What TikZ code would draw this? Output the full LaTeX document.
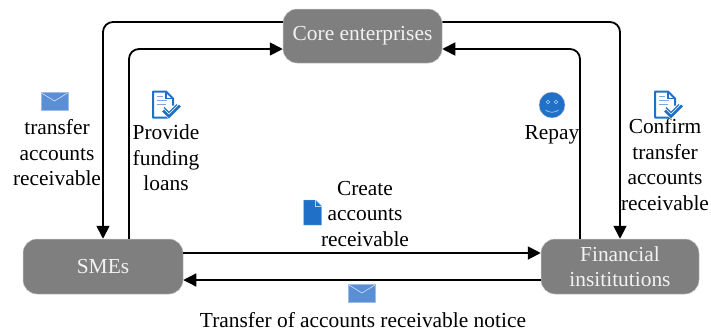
\documentclass[tikz,border=0pt]{standalone}
\usepackage{fontspec}
\setmainfont{Liberation Serif}
\usetikzlibrary{arrows.meta}
\definecolor{boxgray}{HTML}{7F7F7F}
\definecolor{boxedge}{HTML}{C8C8C8}
\definecolor{mailblue}{HTML}{5B8FD5}
\definecolor{iconblue}{HTML}{2070C8}
\tikzset{
  x=1pt,y=-1pt,
  actor/.style={draw=boxedge,line width=0.5pt,fill=boxgray,rounded corners=14pt,text=white!95!black,
    minimum width=160pt,minimum height=55pt,inner sep=0pt,align=center,font=\fontsize{21.4}{25.5}\selectfont},
  lbl/.style={inner sep=0pt,align=center,text=black,font=\fontsize{21.4}{25.5}\selectfont},
  conn/.style={draw=black,line width=1.8pt,rounded corners=10pt,-{Triangle[length=13pt,width=13pt]}},
  pics/mail/.style={code={
    \fill[mailblue,draw=mailblue!60!white,line width=0.5pt] (-13.5,-9) rectangle (13.5,9);
    \draw[white!75!mailblue,line width=0.6pt] (-13,-8) -- (0,0) -- (13,-8);
  }},
  pics/checkdoc/.style={code={
    \draw[iconblue,line width=2pt,fill=white,line join=round] (3,13) -- (-13,13) -- (-13,-13) -- (0,-13) -- (7,-6) -- (7,1);
    \draw[iconblue,line width=1.2pt] (0,-13) -- (0,-6) -- (7,-6);
    \draw[iconblue!60!white,line width=1pt] (-9,-8) -- (-3,-8) (-9,-4) -- (1,-4) (-9,0) -- (0,0);
    \draw[white,line width=5pt] (-2,6) -- (3,11) -- (13,1);
    \draw[iconblue,line width=2.6pt] (-3,6) -- (3,12) -- (14,1);
    \draw[iconblue,line width=1.2pt] (-2,3) -- (3,8) -- (11,0);
  }},
  pics/smile/.style={code={
    \fill[iconblue,draw=boxedge,line width=0.4pt] (0,0) circle[radius=13];
    \draw[white!70!iconblue,line width=0.6pt] (-4,-3) circle[radius=1.7] (4,-3) circle[radius=1.7];
    \draw[white!70!iconblue,line width=0.6pt] (-6.5,5) .. controls (-3,8) and (3,8) .. (6.5,5);
  }},
  pics/filedoc/.style={code={
    \fill[iconblue,draw=iconblue!50!white,line width=0.4pt] (-9,-12.5) -- (3,-12.5) -- (9,-6.5) -- (9,12.5) -- (-9,12.5) -- cycle;
    \draw[white!70!iconblue,line width=0.6pt] (3,-12.5) -- (3,-6.5) -- (9,-6.5);
  }},
}
\begin{document}
\begin{tikzpicture}
\useasboundingbox (0,0) rectangle (711,335);
\node[actor,minimum width=159pt,minimum height=54pt] (core) at (362.5,36) {Core enterprises};
\node[actor] (sme) at (103,266.5) {SMEs};
\node[actor,minimum width=158pt] (fin) at (620,266.5) {Financial\\insititutions};

\draw[conn] ([yshift=14pt]core.west) -| (sme.north);
\draw[conn] ([xshift=26pt]sme.north) |- ([yshift=-13pt]core.west);
\draw[conn] ([yshift=14pt]core.east) -| (fin.north);
\draw[conn] ([xshift=-40pt]fin.north) |- ([yshift=-13pt]core.east);
\draw[conn,line width=1.9pt] ([yshift=13.5pt]sme.east) -- ([yshift=13.5pt]fin.west);
\draw[conn,line width=1.3pt] ([yshift=-13.5pt]fin.west) -- ([yshift=-13.5pt]sme.east);

\node[lbl] (t1) at (57,153) {transfer\\accounts\\receivable};
\node[lbl] (t2) at (166,158) {Provide\\funding\\loans};
\node[lbl] (t3) at (552,135) {Repay};
\node[lbl] (t4) at (665,164.5) {Confirm\\transfer\\accounts\\receivable};
\node[lbl] (t5) at (365,214) {Create\\accounts\\receivable};
\node[lbl] (t6) at (363,320) {Transfer of accounts receivable notice};

\pic at (54.5,101) {mail};
\pic at (362,293) {mail};
\pic at (166,104.5) {checkdoc};
\pic at (668,104.5) {checkdoc};
\pic at (552,105) {smile};
\pic at (312.5,212.5) {filedoc};
\end{tikzpicture}
\end{document}
